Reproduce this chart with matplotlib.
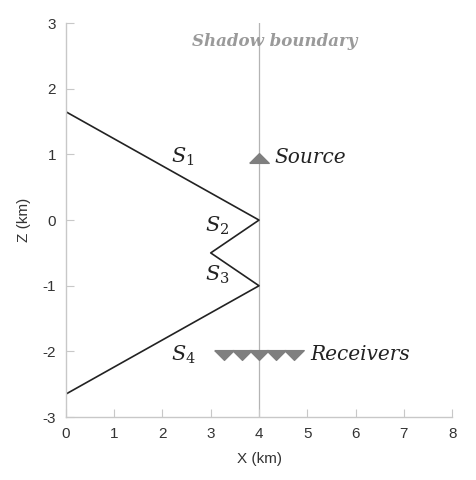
import matplotlib
matplotlib.use('Agg')
import matplotlib.pyplot as plt

# ray path (km)
path_x = [0, 4, 3, 4, 0]
path_z = [1.65, 0, -0.5, -1, -2.65]

source_x = [4.0]
source_z = [0.95]

recv_x = [3.28, 3.64, 4.0, 4.36, 4.72]
recv_z = [-2.05, -2.05, -2.05, -2.05, -2.05]

shadow_x = 4.0

seg_labels = ['$S_1$', '$S_2$', '$S_3$', '$S_4$']
seg_label_x = [2.42, 3.13, 3.13, 2.43]
seg_label_z = [0.96, -0.09, -0.84, -2.05]

plt.rcParams['font.family'] = ['Liberation Sans', 'DejaVu Sans']
plt.rcParams['mathtext.fontset'] = 'dejavuserif'
plt.rcParams['axes.unicode_minus'] = False

# flat triangles
tri_up = [(-1, -0.5), (1, -0.5), (0, 0.5), (-1, -0.5)]
tri_down = [(-1, 0.5), (1, 0.5), (0, -0.5), (-1, 0.5)]

fig = plt.figure(figsize=(4.77, 4.80), dpi=100)
ax = fig.add_axes([0.138, 0.131, 0.81, 0.821])

ax.axvline(shadow_x, color='#b4b4b4', lw=0.9, zorder=1)
ax.plot(path_x, path_z, color='#222222', lw=1.2, zorder=2)

ax.plot(source_x, source_z, marker=tri_up, ms=14, color='#7f7f7f', ls='None', zorder=3)
ax.plot(recv_x, recv_z, marker=tri_down, ms=14, color='#7f7f7f', ls='None', zorder=3)

for lab, x, z in zip(seg_labels, seg_label_x, seg_label_z):
    ax.text(x, z, lab, fontsize=15, ha='center', va='center', color='#222222')

serif = dict(family='DejaVu Serif', style='italic', fontsize=14.5, color='#222222')
ax.text(4.31, 0.96, 'Source', ha='left', va='center', **serif)
ax.text(5.06, -2.05, 'Receivers', ha='left', va='center', **serif)
ax.text(4.33, 2.72, 'Shadow boundary', ha='center', va='center', family='DejaVu Serif',
        style='italic', weight='bold', fontsize=12, color='#9a9a9a')

ax.set_xlim(0, 8)
ax.set_ylim(-3, 3)
ax.set_xticks(range(0, 9))
ax.set_yticks(range(-3, 4))

for s in ['top', 'right']:
    ax.spines[s].set_visible(False)
for s in ['left', 'bottom']:
    ax.spines[s].set_color('#c8c8c8')
    ax.spines[s].set_linewidth(1.0)
ax.tick_params(direction='in', colors='#c8c8c8', labelcolor='#333333', length=6,
               labelsize=11, pad=7)

ax.set_xlabel('X (km)', fontsize=11, color='#333333', labelpad=8)
ax.set_ylabel('Z (km)', fontsize=11, color='#333333', labelpad=8)

fig.savefig('out.png', dpi=100, facecolor='white')
